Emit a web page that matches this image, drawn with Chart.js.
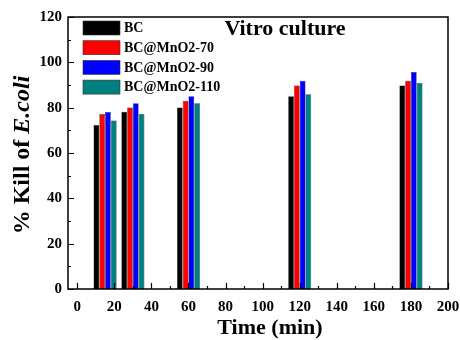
<!DOCTYPE html>
<html>
<head>
<meta charset="utf-8">
<script src="https://cdn.jsdelivr.net/npm/chart.js@4.4.1/dist/chart.umd.min.js"></script>
<style>
  body { margin: 0; background: #fff; }
  canvas { display: block; }
</style>
</head>
<body>
<canvas id="killChart" width="460" height="340"></canvas>
<script>
// time points (min) and % kill for each sample
const times = [15, 30, 60, 120, 180]
const seriesNames = ["BC", "BC@MnO2-70", "BC@MnO2-90", "BC@MnO2-110"]
const bcKill = [72.3, 78.2, 80.1, 85.0, 89.8]
const mn70Kill = [77.2, 80.1, 83.0, 89.8, 91.9]
const mn90Kill = [78.1, 82.0, 85.0, 91.9, 95.7]
const mn110Kill = [74.3, 77.2, 82.0, 85.9, 90.9]
const xTicks = [0, 20, 40, 60, 80, 100, 120, 140, 160, 180, 200]
const yTicks = [0, 20, 40, 60, 80, 100, 120]

const colors = ["#000000", "#ff0000", "#0000ff", "#008080"]
const serif = "'Liberation Serif', 'DejaVu Serif', serif"

function points(values) {
    return values.map((v, i) => ({ x: times[i], y: v }))
}

const allValues = [bcKill, mn70Kill, mn90Kill, mn110Kill]

const datasets = allValues.map((vals, i) => ({
    label: seriesNames[i],
    data: points(vals),
    backgroundColor: colors[i],
    borderColor: "#222",
    borderWidth: 0.5,
    categoryPercentage: 0.83,
    barPercentage: 1.0
}))

// frame, inward ticks, inside legend, title and axis titles
const decorations = {
    id: "decorations",
    afterDraw(chart) {
        const ctx = chart.ctx
        const area = chart.chartArea
        const xs = chart.scales.x
        const ys = chart.scales.y
        ctx.save()
        ctx.strokeStyle = "#000"
        ctx.lineWidth = 1.5
        ctx.strokeRect(area.left, area.top, area.right - area.left, area.bottom - area.top)

        // x ticks (major every 20, minor every 10)
        ctx.lineWidth = 1.2
        ctx.beginPath()
        for (let v = 0; v <= 200; v += 10) {
            const px = Math.round(xs.getPixelForValue(v)) + 0.5
            const len = v % 20 === 0 ? 6 : 3
            ctx.moveTo(px, area.bottom)
            ctx.lineTo(px, area.bottom - len)
        }
        // y ticks
        for (let v = 0; v <= 120; v += 10) {
            const py = Math.round(ys.getPixelForValue(v)) + 0.5
            const len = v % 20 === 0 ? 6 : 3
            ctx.moveTo(area.left, py)
            ctx.lineTo(area.left + len, py)
        }
        ctx.stroke()

        // legend
        ctx.font = "bold 14px " + serif
        ctx.textBaseline = "middle"
        ctx.textAlign = "left"
        chart.data.datasets.forEach((ds, i) => {
            const bx = area.left + 15
            const by = area.top + 4 + i * 19.7
            ctx.fillStyle = ds.backgroundColor
            ctx.fillRect(bx, by, 37, 14)
            ctx.strokeStyle = "#333"
            ctx.lineWidth = 0.6
            ctx.strokeRect(bx, by, 37, 14)
            ctx.fillStyle = "#000"
            ctx.fillText(ds.label, bx + 41, by + 7.5)
        })

        // chart title
        ctx.font = "bold 22px " + serif
        ctx.textAlign = "center"
        ctx.fillText("Vitro culture", 285, 29)

        // x axis title
        ctx.font = "bold 22px " + serif
        ctx.fillText("Time (min)", 270, 328)

        // y axis title with italic species name
        ctx.translate(23, 155)
        ctx.rotate(-Math.PI / 2)
        const partA = "% Kill of "
        const partB = "E.coli"
        ctx.font = "bold 24px " + serif
        const wA = ctx.measureText(partA).width
        ctx.font = "italic bold 24px " + serif
        const wB = ctx.measureText(partB).width
        const start = -(wA + wB) / 2
        ctx.textAlign = "left"
        ctx.font = "bold 24px " + serif
        ctx.fillText(partA, start, 0)
        ctx.font = "italic bold 24px " + serif
        ctx.fillText(partB, start + wA, 0)
        ctx.restore()
    }
}

new Chart(document.getElementById("killChart"), {
    type: "bar",
    data: { datasets: datasets },
    options: {
        responsive: false,
        animation: false,
        layout: { padding: { top: 17, right: 12, left: 0, bottom: 0 } },
        plugins: {
            legend: { display: false },
            tooltip: { enabled: false }
        },
        scales: {
            x: {
                type: "linear",
                offset: false,
                min: -5,
                max: 200,
                afterBuildTicks: s => { s.ticks = xTicks.map(v => ({ value: v })) },
                afterFit: s => {
                    s.height = 51
                    s.paddingLeft = 0
                    s.paddingRight = 0
                },
                grid: { display: false, drawTicks: false, offset: false },
                border: { display: false },
                ticks: {
                    color: "#000",
                    padding: 9,
                    maxRotation: 0,
                    autoSkip: false,
                    font: { family: serif, size: 15, weight: "bold" }
                }
            },
            y: {
                min: 0,
                max: 120,
                afterBuildTicks: s => { s.ticks = yTicks.map(v => ({ value: v })) },
                afterFit: s => {
                    s.width = 68
                    s.paddingTop = 0
                    s.paddingBottom = 0
                },
                grid: { display: false, drawTicks: false },
                border: { display: false },
                ticks: {
                    color: "#000",
                    padding: 6,
                    font: { family: serif, size: 15, weight: "bold" }
                }
            }
        }
    },
    plugins: [decorations]
})
</script>
</body>
</html>
